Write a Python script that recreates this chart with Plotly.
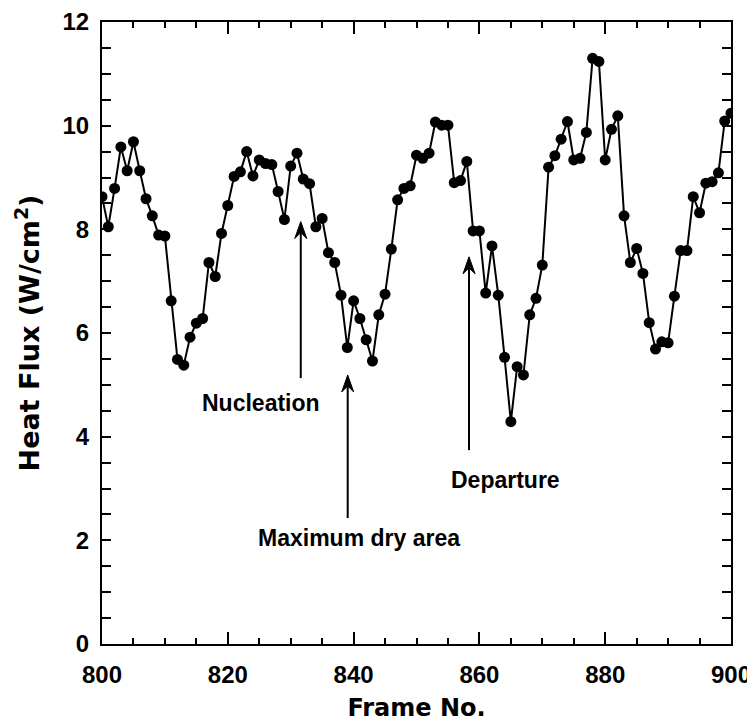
import plotly.graph_objects as go

frames = list(range(800, 901))
heat_flux = [
    8.63, 8.05, 8.79, 9.59, 9.13, 9.69, 9.13, 8.59, 8.26, 7.89,   # 800-809
    7.87, 6.62, 5.49, 5.38, 5.92, 6.19, 6.28, 7.36, 7.09, 7.92,   # 810-819
    8.46, 9.02, 9.11, 9.50, 9.03, 9.34, 9.27, 9.25, 8.73, 8.19,   # 820-829
    9.22, 9.47, 8.97, 8.88, 8.05, 8.21, 7.55, 7.36, 6.73, 5.72,   # 830-839
    6.62, 6.28, 5.87, 5.46, 6.35, 6.75, 7.62, 8.57, 8.79, 8.84,   # 840-849
    9.43, 9.37, 9.47, 10.07, 10.01, 10.01, 8.90, 8.94, 9.31, 7.97,  # 850-859
    7.97, 6.77, 7.68, 6.73, 5.53, 4.29, 5.35, 5.19, 6.35, 6.67,   # 860-869
    7.31, 9.20, 9.42, 9.74, 10.08, 9.34, 9.37, 9.87, 11.30, 11.24,  # 870-879
    9.34, 9.93, 10.19, 8.26, 7.36, 7.63, 7.15, 6.20, 5.69, 5.83,  # 880-889
    5.81, 6.71, 7.59, 7.59, 8.63, 8.32, 8.89, 8.92, 9.09, 10.09,  # 890-899
    10.24,                                                          # 900
]

labels = ["Nucleation", "Maximum dry area", "Departure"]

# the page body adds an 8px offset, so the figure is 8px smaller
W, H = 747, 714
L, R, T, B = 94, 24, 14, 78
X0, X1, Y0, Y1 = 800, 900, 0, 12
px_x = (X1 - X0) / (W - L - R)   # data units per pixel
px_y = (Y1 - Y0) / (H - T - B)

fig = go.Figure()
fig.add_trace(go.Scatter(
    x=frames, y=heat_flux, mode="lines+markers",
    line=dict(color="black", width=2),
    marker=dict(color="black", size=11, symbol="circle"),
    showlegend=False, hoverinfo="skip",
))

tick_font = dict(family="Liberation Sans, Arial, sans-serif", size=24, color="black")
title_font_x = dict(family="DejaVu Sans, Liberation Sans, sans-serif", size=24, color="black")
title_font_y = dict(family="DejaVu Sans, Liberation Sans, sans-serif", size=27, color="black")

fig.update_layout(
    width=W, height=H,
    margin=dict(l=L, r=R, t=T, b=B),
    paper_bgcolor="white", plot_bgcolor="white",
    xaxis=dict(
        range=[X0, X1], tick0=800, dtick=20, tickprefix="<b>", ticksuffix="</b>",
        ticks="inside", ticklen=12, tickwidth=2, tickcolor="black",
        minor=dict(dtick=5, tick0=800, ticks="inside", ticklen=6, tickwidth=2, tickcolor="black"),
        showline=True, linewidth=2, linecolor="black", mirror="allticks",
        showgrid=False, zeroline=False, automargin=False,
        tickfont=tick_font, ticklabelstandoff=8,
        title=dict(text="<b>Frame No.</b>", font=title_font_x, standoff=17),
    ),
    yaxis=dict(
        range=[Y0, Y1], tick0=0, dtick=2, tickprefix="<b>", ticksuffix="</b>",
        ticks="inside", ticklen=9, tickwidth=2, tickcolor="black",
        minor=dict(dtick=0.5, tick0=0, ticks="inside", ticklen=9, tickwidth=2, tickcolor="black"),
        showline=True, linewidth=2, linecolor="black", mirror="allticks",
        showgrid=False, zeroline=False, automargin=False,
        tickfont=tick_font, ticklabelstandoff=6,
        title=dict(text="<b>Heat Flux (W/cm<sup>2</sup>)</b>", font=title_font_y, standoff=15),
    ),
)

# arrows: (x, head_y, tail_y)
arrows = [(831.6, 8.15, 5.13), (839.06, 5.19, 2.43), (858.35, 7.47, 3.74)]
hw, hl, hn = 6 * px_x, 17 * px_y, 11 * px_y
for ax_, hy, ty in arrows:
    fig.add_shape(type="line", x0=ax_, x1=ax_, y0=ty, y1=hy - hn, xref="x", yref="y",
                  line=dict(color="black", width=2))
    path = (f"M {ax_} {hy} L {ax_ - hw} {hy - hl} L {ax_} {hy - hn} "
            f"L {ax_ + hw} {hy - hl} Z")
    fig.add_shape(type="path", path=path, xref="x", yref="y",
                  fillcolor="black", line=dict(color="black", width=1))

text_pos = [(825.3, 4.65), (840.9, 2.05), (864.1, 3.16)]
ann_font = dict(family="Liberation Sans, Arial, sans-serif", size=23, color="black")
for lab, (tx, ty) in zip(labels, text_pos):
    fig.add_annotation(x=tx, y=ty, xref="x", yref="y", text=f"<b>{lab}</b>",
                       showarrow=False, font=ann_font)

fig.write_html("out.html")
